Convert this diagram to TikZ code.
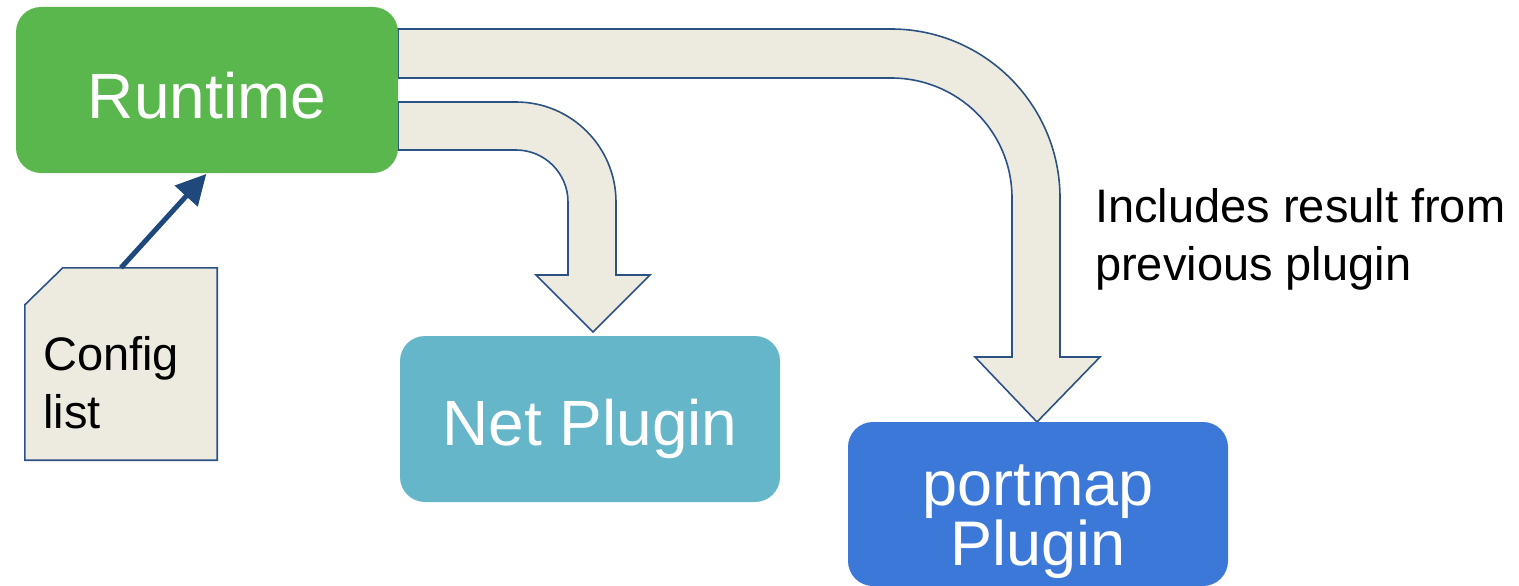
\documentclass[tikz,border=0pt]{standalone}
\usepackage{fontspec}
\setmainfont{Liberation Sans}
\usetikzlibrary{arrows.meta}
\definecolor{rtgreen}{HTML}{59B74E}
\definecolor{netteal}{HTML}{66B6CA}
\definecolor{pmblue}{HTML}{3C78D8}
\definecolor{beige}{HTML}{EDEBE0}
\definecolor{edgeblue}{HTML}{2C5285}
\definecolor{arrowblue}{HTML}{1F497D}
\tikzset{
  box/.style={rectangle, rounded corners=25pt, inner sep=0pt},
  boxtxt/.style={text=white, inner sep=0pt, anchor=base, align=center},
  band/.style={fill=beige, draw=edgeblue, line width=1.6pt, line join=miter},
  bigtxt/.style={font=\fontsize{64}{70}\selectfont},
  cfgarrow/.style={draw=arrowblue, line width=5pt, -{Triangle[length=30pt,width=30pt]}, shorten >=1pt}
}
\begin{document}
\begin{tikzpicture}[x=1pt,y=-1pt]
\useasboundingbox (0,0) rectangle (1519,586);
% bent arrow to portmap
\draw[band] (398,29) -- (891,29) .. controls (984.3,29) and (1060,104.7) .. (1060,198)
  -- (1060,357) -- (1100,357) -- (1037,422) -- (975,357) -- (1012,357) -- (1012,198)
  .. controls (1012,131.2) and (957.8,78) .. (891,78) -- (398,78) -- cycle;
% bent arrow to net plugin
\draw[band] (398,102) -- (516,102) .. controls (571.2,102) and (616,146.8) .. (616,202)
  -- (616,275) -- (650,275) -- (593,332) -- (536,275) -- (568,275) -- (568,202)
  .. controls (568,173.3) and (544.7,150) .. (516,150) -- (398,150) -- cycle;
% boxes
\node[box, fill=rtgreen, minimum width=382pt, minimum height=166pt] (runtime) at (207,90) {};
\node[boxtxt, bigtxt] (runtimetext) at (207,118) {Runtime};
\node[box, fill=netteal, minimum width=380pt, minimum height=166pt] (net) at (590,419) {};
\node[boxtxt, bigtxt] (nettext) at (590,445) {Net Plugin};
\node[box, fill=pmblue, minimum width=380pt, minimum height=164pt] (portmap) at (1038,504) {};
\node[boxtxt, font=\fontsize{63}{57}\selectfont] (pmtext) at (1038,565) {portmap\\Plugin};
% config list
\node[minimum width=192pt, minimum height=192pt, inner sep=0pt] (cfg) at (121,364) {};
\draw[fill=beige, draw=edgeblue, line width=1.6pt] ([yshift=-37pt]cfg.north west) -- ([xshift=38pt]cfg.north west) -- (cfg.north east) -- (cfg.south east) -- (cfg.south west) -- cycle;
\node[anchor=base west, align=left, inner sep=0pt, font=\fontsize{47}{58}\selectfont] (cfgtext) at (43,428) {Config\\list};
\draw[cfgarrow] (cfg.north) -- (runtime.south);
% note
\node[anchor=base west, align=left, inner sep=0pt, font=\fontsize{47}{58}\selectfont] (note) at (1095,280) {Includes result from\\previous plugin};
\end{tikzpicture}
\end{document}
